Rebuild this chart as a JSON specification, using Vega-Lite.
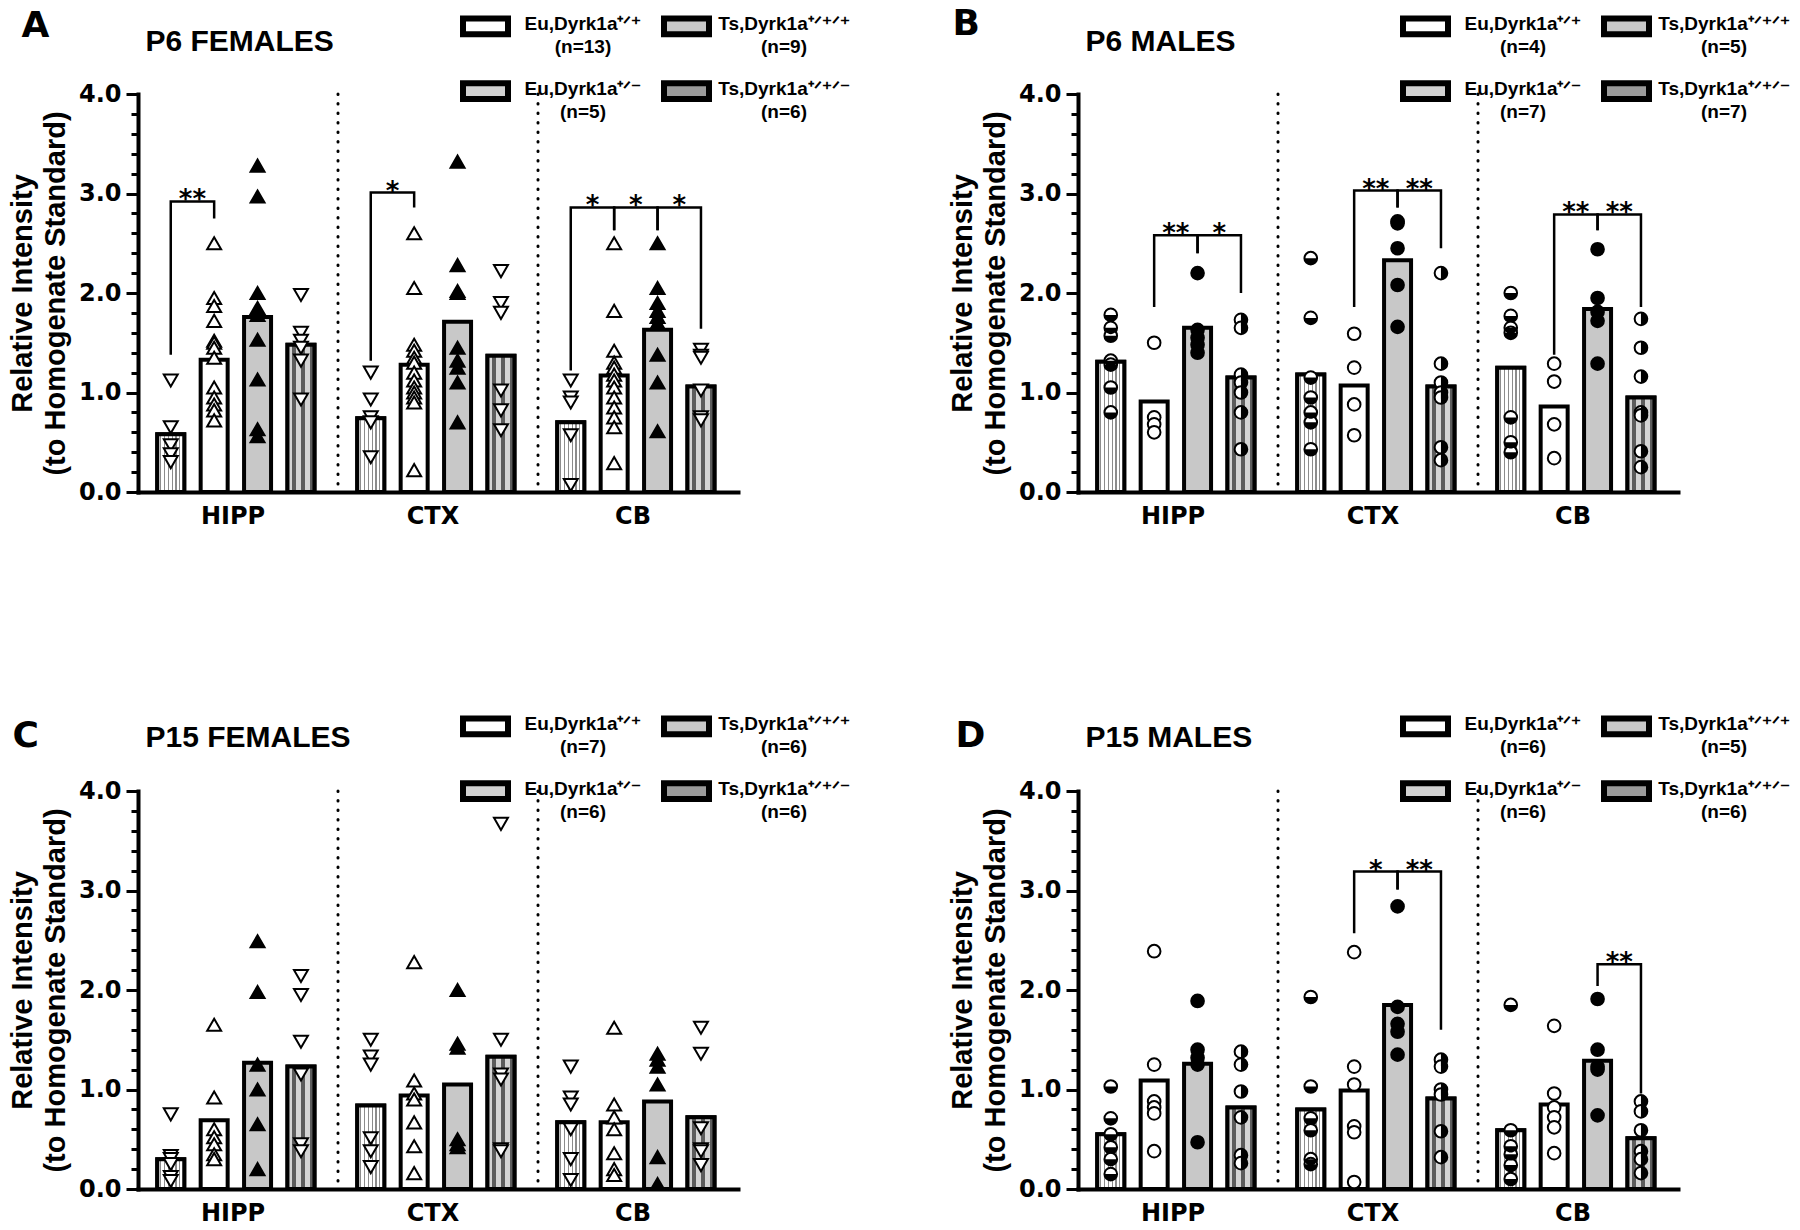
{
"$schema": "https://vega.github.io/schema/vega-lite/v6.json",
"background": "white",
"padding": {"left": 8, "top": 4, "right": 5, "bottom": 5},
"config": {"view": {"stroke": null}, "font": "DejaVu Sans", "style": {"guide-label": {"lineHeight": 23}}},
"datasets": {
"bars": [
{"p":"A","r":"HIPP","g":"Em","v":0.58},{"p":"A","r":"HIPP","g":"E2","v":1.33},{"p":"A","r":"HIPP","g":"T3","v":1.76},{"p":"A","r":"HIPP","g":"Tm","v":1.48},
{"p":"A","r":"CTX","g":"Em","v":0.74},{"p":"A","r":"CTX","g":"E2","v":1.28},{"p":"A","r":"CTX","g":"T3","v":1.71},{"p":"A","r":"CTX","g":"Tm","v":1.37},
{"p":"A","r":"CB","g":"Em","v":0.70},{"p":"A","r":"CB","g":"E2","v":1.17},{"p":"A","r":"CB","g":"T3","v":1.63},{"p":"A","r":"CB","g":"Tm","v":1.06},
{"p":"B","r":"HIPP","g":"Em","v":1.31},{"p":"B","r":"HIPP","g":"E2","v":0.91},{"p":"B","r":"HIPP","g":"T3","v":1.65},{"p":"B","r":"HIPP","g":"Tm","v":1.15},
{"p":"B","r":"CTX","g":"Em","v":1.18},{"p":"B","r":"CTX","g":"E2","v":1.07},{"p":"B","r":"CTX","g":"T3","v":2.33},{"p":"B","r":"CTX","g":"Tm","v":1.06},
{"p":"B","r":"CB","g":"Em","v":1.25},{"p":"B","r":"CB","g":"E2","v":0.86},{"p":"B","r":"CB","g":"T3","v":1.84},{"p":"B","r":"CB","g":"Tm","v":0.95},
{"p":"C","r":"HIPP","g":"Em","v":0.30},{"p":"C","r":"HIPP","g":"E2","v":0.69},{"p":"C","r":"HIPP","g":"T3","v":1.27},{"p":"C","r":"HIPP","g":"Tm","v":1.23},
{"p":"C","r":"CTX","g":"Em","v":0.84},{"p":"C","r":"CTX","g":"E2","v":0.94},{"p":"C","r":"CTX","g":"T3","v":1.05},{"p":"C","r":"CTX","g":"Tm","v":1.33},
{"p":"C","r":"CB","g":"Em","v":0.67},{"p":"C","r":"CB","g":"E2","v":0.67},{"p":"C","r":"CB","g":"T3","v":0.88},{"p":"C","r":"CB","g":"Tm","v":0.72},
{"p":"D","r":"HIPP","g":"Em","v":0.55},{"p":"D","r":"HIPP","g":"E2","v":1.09},{"p":"D","r":"HIPP","g":"T3","v":1.26},{"p":"D","r":"HIPP","g":"Tm","v":0.82},
{"p":"D","r":"CTX","g":"Em","v":0.80},{"p":"D","r":"CTX","g":"E2","v":0.99},{"p":"D","r":"CTX","g":"T3","v":1.85},{"p":"D","r":"CTX","g":"Tm","v":0.91},
{"p":"D","r":"CB","g":"Em","v":0.59},{"p":"D","r":"CB","g":"E2","v":0.85},{"p":"D","r":"CB","g":"T3","v":1.29},{"p":"D","r":"CB","g":"Tm","v":0.51}
],
"pts": [
{"p":"A","r":"HIPP","g":"Em","v":1.12},{"p":"A","r":"HIPP","g":"Em","v":0.65},{"p":"A","r":"HIPP","g":"Em","v":0.47},{"p":"A","r":"HIPP","g":"Em","v":0.38},{"p":"A","r":"HIPP","g":"Em","v":0.30},
{"p":"A","r":"HIPP","g":"E2","v":2.5},{"p":"A","r":"HIPP","g":"E2","v":1.95},{"p":"A","r":"HIPP","g":"E2","v":1.87},{"p":"A","r":"HIPP","g":"E2","v":1.72},{"p":"A","r":"HIPP","g":"E2","v":1.52},{"p":"A","r":"HIPP","g":"E2","v":1.5},{"p":"A","r":"HIPP","g":"E2","v":1.45},{"p":"A","r":"HIPP","g":"E2","v":1.35},{"p":"A","r":"HIPP","g":"E2","v":1.05},{"p":"A","r":"HIPP","g":"E2","v":0.95},{"p":"A","r":"HIPP","g":"E2","v":0.88},{"p":"A","r":"HIPP","g":"E2","v":0.82},{"p":"A","r":"HIPP","g":"E2","v":0.72},
{"p":"A","r":"HIPP","g":"T3","v":3.28},{"p":"A","r":"HIPP","g":"T3","v":2.97},{"p":"A","r":"HIPP","g":"T3","v":2.0},{"p":"A","r":"HIPP","g":"T3","v":1.85},{"p":"A","r":"HIPP","g":"T3","v":1.78},{"p":"A","r":"HIPP","g":"T3","v":1.53},{"p":"A","r":"HIPP","g":"T3","v":1.13},{"p":"A","r":"HIPP","g":"T3","v":0.63},{"p":"A","r":"HIPP","g":"T3","v":0.56},
{"p":"A","r":"HIPP","g":"Tm","v":1.98},{"p":"A","r":"HIPP","g":"Tm","v":1.6},{"p":"A","r":"HIPP","g":"Tm","v":1.52},{"p":"A","r":"HIPP","g":"Tm","v":1.45},{"p":"A","r":"HIPP","g":"Tm","v":1.32},{"p":"A","r":"HIPP","g":"Tm","v":0.93},
{"p":"A","r":"CTX","g":"Em","v":1.2},{"p":"A","r":"CTX","g":"Em","v":0.93},{"p":"A","r":"CTX","g":"Em","v":0.75},{"p":"A","r":"CTX","g":"Em","v":0.7},{"p":"A","r":"CTX","g":"Em","v":0.35},
{"p":"A","r":"CTX","g":"E2","v":2.6},{"p":"A","r":"CTX","g":"E2","v":2.05},{"p":"A","r":"CTX","g":"E2","v":1.48},{"p":"A","r":"CTX","g":"E2","v":1.42},{"p":"A","r":"CTX","g":"E2","v":1.35},{"p":"A","r":"CTX","g":"E2","v":1.3},{"p":"A","r":"CTX","g":"E2","v":1.2},{"p":"A","r":"CTX","g":"E2","v":1.12},{"p":"A","r":"CTX","g":"E2","v":1.05},{"p":"A","r":"CTX","g":"E2","v":1.0},{"p":"A","r":"CTX","g":"E2","v":0.95},{"p":"A","r":"CTX","g":"E2","v":0.9},{"p":"A","r":"CTX","g":"E2","v":0.22},
{"p":"A","r":"CTX","g":"T3","v":3.32},{"p":"A","r":"CTX","g":"T3","v":2.28},{"p":"A","r":"CTX","g":"T3","v":2.02},{"p":"A","r":"CTX","g":"T3","v":2.0},{"p":"A","r":"CTX","g":"T3","v":1.45},{"p":"A","r":"CTX","g":"T3","v":1.32},{"p":"A","r":"CTX","g":"T3","v":1.25},{"p":"A","r":"CTX","g":"T3","v":1.1},{"p":"A","r":"CTX","g":"T3","v":0.7},
{"p":"A","r":"CTX","g":"Tm","v":2.22},{"p":"A","r":"CTX","g":"Tm","v":1.9},{"p":"A","r":"CTX","g":"Tm","v":1.8},{"p":"A","r":"CTX","g":"Tm","v":1.02},{"p":"A","r":"CTX","g":"Tm","v":0.82},{"p":"A","r":"CTX","g":"Tm","v":0.62},
{"p":"A","r":"CB","g":"Em","v":1.12},{"p":"A","r":"CB","g":"Em","v":0.95},{"p":"A","r":"CB","g":"Em","v":0.9},{"p":"A","r":"CB","g":"Em","v":0.57},{"p":"A","r":"CB","g":"Em","v":0.07},
{"p":"A","r":"CB","g":"E2","v":2.5},{"p":"A","r":"CB","g":"E2","v":1.82},{"p":"A","r":"CB","g":"E2","v":1.42},{"p":"A","r":"CB","g":"E2","v":1.3},{"p":"A","r":"CB","g":"E2","v":1.25},{"p":"A","r":"CB","g":"E2","v":1.18},{"p":"A","r":"CB","g":"E2","v":1.12},{"p":"A","r":"CB","g":"E2","v":1.05},{"p":"A","r":"CB","g":"E2","v":0.95},{"p":"A","r":"CB","g":"E2","v":0.85},{"p":"A","r":"CB","g":"E2","v":0.75},{"p":"A","r":"CB","g":"E2","v":0.65},{"p":"A","r":"CB","g":"E2","v":0.29},
{"p":"A","r":"CB","g":"T3","v":2.5},{"p":"A","r":"CB","g":"T3","v":2.05},{"p":"A","r":"CB","g":"T3","v":1.9},{"p":"A","r":"CB","g":"T3","v":1.82},{"p":"A","r":"CB","g":"T3","v":1.76},{"p":"A","r":"CB","g":"T3","v":1.7},{"p":"A","r":"CB","g":"T3","v":1.38},{"p":"A","r":"CB","g":"T3","v":1.1},{"p":"A","r":"CB","g":"T3","v":0.61},
{"p":"A","r":"CB","g":"Tm","v":1.43},{"p":"A","r":"CB","g":"Tm","v":1.37},{"p":"A","r":"CB","g":"Tm","v":1.35},{"p":"A","r":"CB","g":"Tm","v":1.02},{"p":"A","r":"CB","g":"Tm","v":0.75},{"p":"A","r":"CB","g":"Tm","v":0.72},
{"p":"B","r":"HIPP","g":"Em","v":1.78},{"p":"B","r":"HIPP","g":"Em","v":1.65},{"p":"B","r":"HIPP","g":"Em","v":1.57},{"p":"B","r":"HIPP","g":"Em","v":1.32},{"p":"B","r":"HIPP","g":"Em","v":1.28},{"p":"B","r":"HIPP","g":"Em","v":1.05},{"p":"B","r":"HIPP","g":"Em","v":0.8},
{"p":"B","r":"HIPP","g":"E2","v":1.5},{"p":"B","r":"HIPP","g":"E2","v":0.75},{"p":"B","r":"HIPP","g":"E2","v":0.68},{"p":"B","r":"HIPP","g":"E2","v":0.6},
{"p":"B","r":"HIPP","g":"T3","v":2.2},{"p":"B","r":"HIPP","g":"T3","v":1.63},{"p":"B","r":"HIPP","g":"T3","v":1.55},{"p":"B","r":"HIPP","g":"T3","v":1.48},{"p":"B","r":"HIPP","g":"T3","v":1.4},
{"p":"B","r":"HIPP","g":"Tm","v":1.73},{"p":"B","r":"HIPP","g":"Tm","v":1.65},{"p":"B","r":"HIPP","g":"Tm","v":1.18},{"p":"B","r":"HIPP","g":"Tm","v":1.1},{"p":"B","r":"HIPP","g":"Tm","v":1.0},{"p":"B","r":"HIPP","g":"Tm","v":0.8},{"p":"B","r":"HIPP","g":"Tm","v":0.43},
{"p":"B","r":"CTX","g":"Em","v":2.35},{"p":"B","r":"CTX","g":"Em","v":1.75},{"p":"B","r":"CTX","g":"Em","v":1.15},{"p":"B","r":"CTX","g":"Em","v":0.95},{"p":"B","r":"CTX","g":"Em","v":0.8},{"p":"B","r":"CTX","g":"Em","v":0.7},{"p":"B","r":"CTX","g":"Em","v":0.43},
{"p":"B","r":"CTX","g":"E2","v":1.59},{"p":"B","r":"CTX","g":"E2","v":1.25},{"p":"B","r":"CTX","g":"E2","v":0.88},{"p":"B","r":"CTX","g":"E2","v":0.57},
{"p":"B","r":"CTX","g":"T3","v":2.72},{"p":"B","r":"CTX","g":"T3","v":2.7},{"p":"B","r":"CTX","g":"T3","v":2.45},{"p":"B","r":"CTX","g":"T3","v":2.08},{"p":"B","r":"CTX","g":"T3","v":1.66},
{"p":"B","r":"CTX","g":"Tm","v":2.2},{"p":"B","r":"CTX","g":"Tm","v":1.29},{"p":"B","r":"CTX","g":"Tm","v":1.1},{"p":"B","r":"CTX","g":"Tm","v":1.0},{"p":"B","r":"CTX","g":"Tm","v":0.95},{"p":"B","r":"CTX","g":"Tm","v":0.45},{"p":"B","r":"CTX","g":"Tm","v":0.32},
{"p":"B","r":"CB","g":"Em","v":2.0},{"p":"B","r":"CB","g":"Em","v":1.77},{"p":"B","r":"CB","g":"Em","v":1.65},{"p":"B","r":"CB","g":"Em","v":1.6},{"p":"B","r":"CB","g":"Em","v":0.75},{"p":"B","r":"CB","g":"Em","v":0.5},{"p":"B","r":"CB","g":"Em","v":0.4},
{"p":"B","r":"CB","g":"E2","v":1.29},{"p":"B","r":"CB","g":"E2","v":1.11},{"p":"B","r":"CB","g":"E2","v":0.68},{"p":"B","r":"CB","g":"E2","v":0.34},
{"p":"B","r":"CB","g":"T3","v":2.44},{"p":"B","r":"CB","g":"T3","v":1.95},{"p":"B","r":"CB","g":"T3","v":1.81},{"p":"B","r":"CB","g":"T3","v":1.72},{"p":"B","r":"CB","g":"T3","v":1.29},
{"p":"B","r":"CB","g":"Tm","v":1.74},{"p":"B","r":"CB","g":"Tm","v":1.45},{"p":"B","r":"CB","g":"Tm","v":1.16},{"p":"B","r":"CB","g":"Tm","v":0.8},{"p":"B","r":"CB","g":"Tm","v":0.77},{"p":"B","r":"CB","g":"Tm","v":0.41},{"p":"B","r":"CB","g":"Tm","v":0.25},
{"p":"C","r":"HIPP","g":"Em","v":0.75},{"p":"C","r":"HIPP","g":"Em","v":0.33},{"p":"C","r":"HIPP","g":"Em","v":0.3},{"p":"C","r":"HIPP","g":"Em","v":0.25},{"p":"C","r":"HIPP","g":"Em","v":0.12},{"p":"C","r":"HIPP","g":"Em","v":0.08},
{"p":"C","r":"HIPP","g":"E2","v":1.65},{"p":"C","r":"HIPP","g":"E2","v":0.92},{"p":"C","r":"HIPP","g":"E2","v":0.6},{"p":"C","r":"HIPP","g":"E2","v":0.52},{"p":"C","r":"HIPP","g":"E2","v":0.45},{"p":"C","r":"HIPP","g":"E2","v":0.35},{"p":"C","r":"HIPP","g":"E2","v":0.3},
{"p":"C","r":"HIPP","g":"T3","v":2.49},{"p":"C","r":"HIPP","g":"T3","v":1.98},{"p":"C","r":"HIPP","g":"T3","v":1.25},{"p":"C","r":"HIPP","g":"T3","v":1.0},{"p":"C","r":"HIPP","g":"T3","v":0.65},{"p":"C","r":"HIPP","g":"T3","v":0.2},
{"p":"C","r":"HIPP","g":"Tm","v":2.14},{"p":"C","r":"HIPP","g":"Tm","v":1.95},{"p":"C","r":"HIPP","g":"Tm","v":1.48},{"p":"C","r":"HIPP","g":"Tm","v":1.15},{"p":"C","r":"HIPP","g":"Tm","v":0.45},{"p":"C","r":"HIPP","g":"Tm","v":0.38},
{"p":"C","r":"CTX","g":"Em","v":1.5},{"p":"C","r":"CTX","g":"Em","v":1.33},{"p":"C","r":"CTX","g":"Em","v":1.25},{"p":"C","r":"CTX","g":"Em","v":0.51},{"p":"C","r":"CTX","g":"Em","v":0.38},{"p":"C","r":"CTX","g":"Em","v":0.22},
{"p":"C","r":"CTX","g":"E2","v":2.28},{"p":"C","r":"CTX","g":"E2","v":1.09},{"p":"C","r":"CTX","g":"E2","v":0.96},{"p":"C","r":"CTX","g":"E2","v":0.9},{"p":"C","r":"CTX","g":"E2","v":0.67},{"p":"C","r":"CTX","g":"E2","v":0.43},{"p":"C","r":"CTX","g":"E2","v":0.16},
{"p":"C","r":"CTX","g":"T3","v":2.0},{"p":"C","r":"CTX","g":"T3","v":1.46},{"p":"C","r":"CTX","g":"T3","v":1.42},{"p":"C","r":"CTX","g":"T3","v":0.5},{"p":"C","r":"CTX","g":"T3","v":0.45},{"p":"C","r":"CTX","g":"T3","v":0.42},
{"p":"C","r":"CTX","g":"Tm","v":3.67},{"p":"C","r":"CTX","g":"Tm","v":1.5},{"p":"C","r":"CTX","g":"Tm","v":1.15},{"p":"C","r":"CTX","g":"Tm","v":1.1},{"p":"C","r":"CTX","g":"Tm","v":0.4},{"p":"C","r":"CTX","g":"Tm","v":0.38},
{"p":"C","r":"CB","g":"Em","v":1.23},{"p":"C","r":"CB","g":"Em","v":0.92},{"p":"C","r":"CB","g":"Em","v":0.85},{"p":"C","r":"CB","g":"Em","v":0.6},{"p":"C","r":"CB","g":"Em","v":0.3},{"p":"C","r":"CB","g":"Em","v":0.09},
{"p":"C","r":"CB","g":"E2","v":1.62},{"p":"C","r":"CB","g":"E2","v":0.85},{"p":"C","r":"CB","g":"E2","v":0.72},{"p":"C","r":"CB","g":"E2","v":0.6},{"p":"C","r":"CB","g":"E2","v":0.36},{"p":"C","r":"CB","g":"E2","v":0.2},{"p":"C","r":"CB","g":"E2","v":0.14},
{"p":"C","r":"CB","g":"T3","v":1.36},{"p":"C","r":"CB","g":"T3","v":1.3},{"p":"C","r":"CB","g":"T3","v":1.23},{"p":"C","r":"CB","g":"T3","v":1.05},{"p":"C","r":"CB","g":"T3","v":0.32},{"p":"C","r":"CB","g":"T3","v":0.05},
{"p":"C","r":"CB","g":"Tm","v":1.62},{"p":"C","r":"CB","g":"Tm","v":1.36},{"p":"C","r":"CB","g":"Tm","v":0.61},{"p":"C","r":"CB","g":"Tm","v":0.4},{"p":"C","r":"CB","g":"Tm","v":0.38},{"p":"C","r":"CB","g":"Tm","v":0.24},
{"p":"D","r":"HIPP","g":"Em","v":1.03},{"p":"D","r":"HIPP","g":"Em","v":0.71},{"p":"D","r":"HIPP","g":"Em","v":0.55},{"p":"D","r":"HIPP","g":"Em","v":0.42},{"p":"D","r":"HIPP","g":"Em","v":0.3},{"p":"D","r":"HIPP","g":"Em","v":0.15},
{"p":"D","r":"HIPP","g":"E2","v":2.39},{"p":"D","r":"HIPP","g":"E2","v":1.25},{"p":"D","r":"HIPP","g":"E2","v":0.88},{"p":"D","r":"HIPP","g":"E2","v":0.82},{"p":"D","r":"HIPP","g":"E2","v":0.76},{"p":"D","r":"HIPP","g":"E2","v":0.38},
{"p":"D","r":"HIPP","g":"T3","v":1.89},{"p":"D","r":"HIPP","g":"T3","v":1.4},{"p":"D","r":"HIPP","g":"T3","v":1.32},{"p":"D","r":"HIPP","g":"T3","v":1.25},{"p":"D","r":"HIPP","g":"T3","v":0.47},
{"p":"D","r":"HIPP","g":"Tm","v":1.38},{"p":"D","r":"HIPP","g":"Tm","v":1.25},{"p":"D","r":"HIPP","g":"Tm","v":0.98},{"p":"D","r":"HIPP","g":"Tm","v":0.72},{"p":"D","r":"HIPP","g":"Tm","v":0.34},{"p":"D","r":"HIPP","g":"Tm","v":0.26},
{"p":"D","r":"CTX","g":"Em","v":1.93},{"p":"D","r":"CTX","g":"Em","v":1.03},{"p":"D","r":"CTX","g":"Em","v":0.71},{"p":"D","r":"CTX","g":"Em","v":0.59},{"p":"D","r":"CTX","g":"Em","v":0.3},{"p":"D","r":"CTX","g":"Em","v":0.25},
{"p":"D","r":"CTX","g":"E2","v":2.38},{"p":"D","r":"CTX","g":"E2","v":1.23},{"p":"D","r":"CTX","g":"E2","v":1.05},{"p":"D","r":"CTX","g":"E2","v":0.63},{"p":"D","r":"CTX","g":"E2","v":0.57},{"p":"D","r":"CTX","g":"E2","v":0.07},
{"p":"D","r":"CTX","g":"T3","v":2.84},{"p":"D","r":"CTX","g":"T3","v":1.83},{"p":"D","r":"CTX","g":"T3","v":1.66},{"p":"D","r":"CTX","g":"T3","v":1.58},{"p":"D","r":"CTX","g":"T3","v":1.35},
{"p":"D","r":"CTX","g":"Tm","v":1.3},{"p":"D","r":"CTX","g":"Tm","v":1.23},{"p":"D","r":"CTX","g":"Tm","v":1.0},{"p":"D","r":"CTX","g":"Tm","v":0.95},{"p":"D","r":"CTX","g":"Tm","v":0.58},{"p":"D","r":"CTX","g":"Tm","v":0.32},
{"p":"D","r":"CB","g":"Em","v":1.85},{"p":"D","r":"CB","g":"Em","v":0.59},{"p":"D","r":"CB","g":"Em","v":0.43},{"p":"D","r":"CB","g":"Em","v":0.35},{"p":"D","r":"CB","g":"Em","v":0.24},{"p":"D","r":"CB","g":"Em","v":0.1},
{"p":"D","r":"CB","g":"E2","v":1.64},{"p":"D","r":"CB","g":"E2","v":0.96},{"p":"D","r":"CB","g":"E2","v":0.82},{"p":"D","r":"CB","g":"E2","v":0.72},{"p":"D","r":"CB","g":"E2","v":0.62},{"p":"D","r":"CB","g":"E2","v":0.36},
{"p":"D","r":"CB","g":"T3","v":1.91},{"p":"D","r":"CB","g":"T3","v":1.4},{"p":"D","r":"CB","g":"T3","v":1.23},{"p":"D","r":"CB","g":"T3","v":1.2},{"p":"D","r":"CB","g":"T3","v":0.74},
{"p":"D","r":"CB","g":"Tm","v":0.88},{"p":"D","r":"CB","g":"Tm","v":0.78},{"p":"D","r":"CB","g":"Tm","v":0.59},{"p":"D","r":"CB","g":"Tm","v":0.38},{"p":"D","r":"CB","g":"Tm","v":0.3},{"p":"D","r":"CB","g":"Tm","v":0.16}
],
"br": [
{"p":"A","r":"HIPP","id":"A1","g":"Em","v":1.38,"o":0},{"p":"A","r":"HIPP","id":"A1","g":"Em","v":2.92,"o":1},{"p":"A","r":"HIPP","id":"A1","g":"E2","v":2.92,"o":2},{"p":"A","r":"HIPP","id":"A1","g":"E2","v":2.75,"o":3},
{"p":"A","r":"CTX","id":"A2","g":"Em","v":1.32,"o":0},{"p":"A","r":"CTX","id":"A2","g":"Em","v":3.01,"o":1},{"p":"A","r":"CTX","id":"A2","g":"E2","v":3.01,"o":2},{"p":"A","r":"CTX","id":"A2","g":"E2","v":2.86,"o":3},
{"p":"A","r":"CB","id":"A3","g":"Em","v":1.22,"o":0},{"p":"A","r":"CB","id":"A3","g":"Em","v":2.86,"o":1},{"p":"A","r":"CB","id":"A3","g":"E2","v":2.86,"o":2},{"p":"A","r":"CB","id":"A3","g":"E2","v":2.63,"o":3},
{"p":"A","r":"CB","id":"A4","g":"E2","v":2.63,"o":0},{"p":"A","r":"CB","id":"A4","g":"E2","v":2.86,"o":1},{"p":"A","r":"CB","id":"A4","g":"T3","v":2.86,"o":2},{"p":"A","r":"CB","id":"A4","g":"T3","v":2.63,"o":3},
{"p":"A","r":"CB","id":"A5","g":"T3","v":2.63,"o":0},{"p":"A","r":"CB","id":"A5","g":"T3","v":2.86,"o":1},{"p":"A","r":"CB","id":"A5","g":"Tm","v":2.86,"o":2},{"p":"A","r":"CB","id":"A5","g":"Tm","v":1.64,"o":3},
{"p":"B","r":"HIPP","id":"B1","g":"E2","v":1.86,"o":0},{"p":"B","r":"HIPP","id":"B1","g":"E2","v":2.58,"o":1},{"p":"B","r":"HIPP","id":"B1","g":"T3","v":2.58,"o":2},{"p":"B","r":"HIPP","id":"B1","g":"T3","v":2.4,"o":3},
{"p":"B","r":"HIPP","id":"B2","g":"T3","v":2.4,"o":0},{"p":"B","r":"HIPP","id":"B2","g":"T3","v":2.58,"o":1},{"p":"B","r":"HIPP","id":"B2","g":"Tm","v":2.58,"o":2},{"p":"B","r":"HIPP","id":"B2","g":"Tm","v":2.0,"o":3},
{"p":"B","r":"CTX","id":"B3","g":"E2","v":1.86,"o":0},{"p":"B","r":"CTX","id":"B3","g":"E2","v":3.03,"o":1},{"p":"B","r":"CTX","id":"B3","g":"T3","v":3.03,"o":2},{"p":"B","r":"CTX","id":"B3","g":"T3","v":2.86,"o":3},
{"p":"B","r":"CTX","id":"B4","g":"T3","v":2.86,"o":0},{"p":"B","r":"CTX","id":"B4","g":"T3","v":3.03,"o":1},{"p":"B","r":"CTX","id":"B4","g":"Tm","v":3.03,"o":2},{"p":"B","r":"CTX","id":"B4","g":"Tm","v":2.45,"o":3},
{"p":"B","r":"CB","id":"B5","g":"E2","v":1.38,"o":0},{"p":"B","r":"CB","id":"B5","g":"E2","v":2.79,"o":1},{"p":"B","r":"CB","id":"B5","g":"T3","v":2.79,"o":2},{"p":"B","r":"CB","id":"B5","g":"T3","v":2.63,"o":3},
{"p":"B","r":"CB","id":"B6","g":"T3","v":2.63,"o":0},{"p":"B","r":"CB","id":"B6","g":"T3","v":2.79,"o":1},{"p":"B","r":"CB","id":"B6","g":"Tm","v":2.79,"o":2},{"p":"B","r":"CB","id":"B6","g":"Tm","v":1.86,"o":3},
{"p":"D","r":"CTX","id":"D1","g":"E2","v":2.57,"o":0},{"p":"D","r":"CTX","id":"D1","g":"E2","v":3.19,"o":1},{"p":"D","r":"CTX","id":"D1","g":"T3","v":3.19,"o":2},{"p":"D","r":"CTX","id":"D1","g":"T3","v":3.01,"o":3},
{"p":"D","r":"CTX","id":"D2","g":"T3","v":3.01,"o":0},{"p":"D","r":"CTX","id":"D2","g":"T3","v":3.19,"o":1},{"p":"D","r":"CTX","id":"D2","g":"Tm","v":3.19,"o":2},{"p":"D","r":"CTX","id":"D2","g":"Tm","v":1.6,"o":3},
{"p":"D","r":"CB","id":"D3","g":"T3","v":2.04,"o":0},{"p":"D","r":"CB","id":"D3","g":"T3","v":2.26,"o":1},{"p":"D","r":"CB","id":"D3","g":"Tm","v":2.26,"o":2},{"p":"D","r":"CB","id":"D3","g":"Tm","v":0.96,"o":3}
],
"st": [
{"p":"A","r":"HIPP","g":"Em","v":2.92,"t":"**"},{"p":"A","r":"CTX","g":"Em","v":3.01,"t":"*"},{"p":"A","r":"CB","g":"Em","v":2.86,"t":"*"},{"p":"A","r":"CB","g":"E2","v":2.86,"t":"*"},{"p":"A","r":"CB","g":"T3","v":2.86,"t":"*"},
{"p":"B","r":"HIPP","g":"E2","v":2.58,"t":"**"},{"p":"B","r":"HIPP","g":"T3","v":2.58,"t":"*"},{"p":"B","r":"CTX","g":"E2","v":3.03,"t":"**"},{"p":"B","r":"CTX","g":"T3","v":3.03,"t":"**"},{"p":"B","r":"CB","g":"E2","v":2.79,"t":"**"},{"p":"B","r":"CB","g":"T3","v":2.79,"t":"**"},
{"p":"D","r":"CTX","g":"E2","v":3.19,"t":"*"},{"p":"D","r":"CTX","g":"T3","v":3.19,"t":"**"},{"p":"D","r":"CB","g":"T3","v":2.26,"t":"**"}
]
},
"columns": 2,
"spacing": {"row": 299, "column": 340},
"bounds": "flush",
"resolve": {"scale": {"fill": "independent"}, "legend": {"fill": "independent"}},
"concat": [
{
"width": 600, "height": 398,
"resolve": {"axis": {"y": "independent"}},
"layer": [
{"data": {"name": "bars"}, "transform": [{"filter": "datum.p=='A'"}],
 "mark": {"type": "bar", "stroke": "black", "strokeWidth": 4},
 "encoding": {
  "x": {"field": "r", "type": "nominal", "scale": {"domain": ["HIPP","CTX","CB"], "paddingInner": 0, "paddingOuter": 0},
        "axis": {"orient": "bottom", "ticks": false, "domainWidth": 4, "domainColor": "black", "domainCap": "square", "labelFont": "DejaVu Sans", "labelFontWeight": "bold", "labelFontSize": 24, "labelColor": "black", "labelPadding": 12, "labelAngle": 0, "labelOffset": -5,
                 "title": "P6 FEMALES", "titleX": 7, "titleY": -442, "titleAlign": "left", "titleBaseline": "alphabetic", "titleAngle": 0, "titleFont": "Liberation Sans", "titleFontSize": 30, "titleFontWeight": "bold", "titleColor": "black"}},
  "xOffset": {"field": "g", "type": "nominal", "scale": {"domain": ["Em","E2","T3","Tm"], "paddingInner": 0.378, "paddingOuter": 0.493, "align": 0.45}},
  "y": {"field": "v", "type": "quantitative", "scale": {"domain": [0, 4], "nice": false},
        "axis": {"orient": "left", "values": [0,1,2,3,4], "format": ".1f", "labelFont": "DejaVu Sans", "labelFontWeight": "bold", "labelFontSize": 24, "labelColor": "black", "labelPadding": 5, "labelFlush": false, "labelOverlap": false, "tickSize": 12, "tickWidth": 3, "tickColor": "black", "domainWidth": 4, "domainColor": "black", "domainCap": "square", "grid": false,
                 "title": ["Relative Intensity", "(to Homogenate Standard)"], "titleFont": "Liberation Sans", "titleFontSize": 29, "titleFontWeight": "bold", "titleColor": "black", "titlePadding": 8, "titleLineHeight": 33}},
  "fill": {"field": "g", "type": "nominal", "scale": {"domain": ["E2","Em","T3","Tm"], "range": ["#ffffff","#d2d2d2","#c8c8c8","#9a9a9a"]},
           "legend": {"orient": "none", "legendX": 322, "legendY": -90, "columns": 2, "title": null, "symbolType": "M-1,-0.505H1V0.195H-1Z", "symbolSize": 2025, "symbolStrokeColor": "black", "symbolStrokeWidth": 6, "symbolOpacity": 1, "labelFont": "Liberation Sans", "labelFontSize": 19, "labelFontWeight": "bold", "labelColor": "black", "labelOffset": 72, "labelAlign": "center", "labelLimit": 300, "columnPadding": 10, "rowPadding": 12, "labelBaseline": "alphabetic", "padding": 0,
                      "labelExpr": "datum.label=='E2' ? ['Eu,Dyrk1a⁺ᐟ⁺','(n=13)'] : datum.label=='T3' ? ['Ts,Dyrk1a⁺ᐟ⁺ᐟ⁺','(n=9)'] : datum.label=='Em' ? ['Eu,Dyrk1a⁺ᐟ⁻','(n=5)'] : ['Ts,Dyrk1a⁺ᐟ⁺ᐟ⁻','(n=6)']"}}
 }},
{"data": {"name": "bars"}, "transform": [{"filter": "datum.p=='A' && datum.g=='Em'"}],
 "mark": {"type": "bar", "stroke": "black", "strokeWidth": 4, "fill": {"gradient": "linear", "x1": 0, "y1": 0, "x2": 1, "y2": 0, "stops": [{"offset":0,"color":"#ffffff"},{"offset":0.1,"color":"#ffffff"},{"offset":0.1,"color":"#8c8c8c"},{"offset":0.143,"color":"#8c8c8c"},{"offset":0.143,"color":"#ffffff"},{"offset":0.243,"color":"#ffffff"},{"offset":0.243,"color":"#8c8c8c"},{"offset":0.286,"color":"#8c8c8c"},{"offset":0.286,"color":"#ffffff"},{"offset":0.386,"color":"#ffffff"},{"offset":0.386,"color":"#8c8c8c"},{"offset":0.429,"color":"#8c8c8c"},{"offset":0.429,"color":"#ffffff"},{"offset":0.529,"color":"#ffffff"},{"offset":0.529,"color":"#8c8c8c"},{"offset":0.571,"color":"#8c8c8c"},{"offset":0.571,"color":"#ffffff"},{"offset":0.671,"color":"#ffffff"},{"offset":0.671,"color":"#8c8c8c"},{"offset":0.714,"color":"#8c8c8c"},{"offset":0.714,"color":"#ffffff"},{"offset":0.814,"color":"#ffffff"},{"offset":0.814,"color":"#8c8c8c"},{"offset":0.857,"color":"#8c8c8c"},{"offset":0.857,"color":"#ffffff"},{"offset":1,"color":"#ffffff"}]}},
 "encoding": {
  "x": {"field": "r", "type": "nominal", "scale": {"domain": ["HIPP","CTX","CB"], "paddingInner": 0, "paddingOuter": 0}},
  "xOffset": {"field": "g", "type": "nominal", "scale": {"domain": ["Em","E2","T3","Tm"], "paddingInner": 0.378, "paddingOuter": 0.493, "align": 0.45}},
  "y": {"field": "v", "type": "quantitative", "scale": {"domain": [0, 4], "nice": false}, "axis": null}
 }},
{"data": {"name": "bars"}, "transform": [{"filter": "datum.p=='A' && datum.g=='Tm'"}],
 "mark": {"type": "bar", "stroke": "black", "strokeWidth": 4, "fill": {"gradient": "linear", "x1": 0, "y1": 0, "x2": 1, "y2": 0, "stops": [{"offset":0,"color":"#d4d4d4"},{"offset":0.1667,"color":"#d4d4d4"},{"offset":0.1667,"color":"#5c5c5c"},{"offset":0.3333,"color":"#5c5c5c"},{"offset":0.3333,"color":"#d4d4d4"},{"offset":0.5,"color":"#d4d4d4"},{"offset":0.5,"color":"#5c5c5c"},{"offset":0.6667,"color":"#5c5c5c"},{"offset":0.6667,"color":"#d4d4d4"},{"offset":0.8333,"color":"#d4d4d4"},{"offset":0.8333,"color":"#5c5c5c"},{"offset":1,"color":"#5c5c5c"}]}},
 "encoding": {
  "x": {"field": "r", "type": "nominal", "scale": {"domain": ["HIPP","CTX","CB"], "paddingInner": 0, "paddingOuter": 0}},
  "xOffset": {"field": "g", "type": "nominal", "scale": {"domain": ["Em","E2","T3","Tm"], "paddingInner": 0.378, "paddingOuter": 0.493, "align": 0.45}},
  "y": {"field": "v", "type": "quantitative", "scale": {"domain": [0, 4], "nice": false}, "axis": null}
 }},
{"data": {"values": [{"r": "CTX"}, {"r": "CB"}]},
 "mark": {"type": "rule", "stroke": "black", "strokeWidth": 3, "strokeDash": [0.5, 9], "strokeCap": "round"},
 "encoding": {"x": {"field": "r", "type": "nominal", "bandPosition": 0, "scale": {"domain": ["HIPP","CTX","CB"], "paddingInner": 0, "paddingOuter": 0}}}},
{"data": {"name": "br"}, "transform": [{"filter": "datum.p=='A'"}],
 "mark": {"type": "line", "stroke": "black", "strokeWidth": 2.5},
 "encoding": {
  "x": {"field": "r", "type": "nominal", "scale": {"domain": ["HIPP","CTX","CB"], "paddingInner": 0, "paddingOuter": 0}},
  "xOffset": {"field": "g", "type": "nominal", "scale": {"domain": ["Em","E2","T3","Tm"], "paddingInner": 0.378, "paddingOuter": 0.493, "align": 0.45}},
  "y": {"field": "v", "type": "quantitative", "scale": {"domain": [0, 4], "nice": false}, "axis": null},
  "detail": {"field": "id", "type": "nominal"},
  "order": {"field": "o", "type": "quantitative"}
 }},
{"data": {"name": "st"}, "transform": [{"filter": "datum.p=='A'"}],
 "mark": {"type": "text", "dx": 21.7, "dy": 7, "baseline": "alphabetic", "align": "center", "font": "DejaVu Sans", "fontSize": 26, "fontWeight": "bold", "color": "black"},
 "encoding": {
  "x": {"field": "r", "type": "nominal", "scale": {"domain": ["HIPP","CTX","CB"], "paddingInner": 0, "paddingOuter": 0}},
  "xOffset": {"field": "g", "type": "nominal", "scale": {"domain": ["Em","E2","T3","Tm"], "paddingInner": 0.378, "paddingOuter": 0.493, "align": 0.45}},
  "y": {"field": "v", "type": "quantitative", "scale": {"domain": [0, 4], "nice": false}, "axis": null},
  "text": {"field": "t", "type": "nominal"}
 }},
{"data": {"name": "pts"}, "transform": [{"filter": "datum.p=='A'"}],
 "mark": {"type": "point", "filled": true, "stroke": "black", "strokeWidth": 2, "size": 195, "opacity": 1},
 "encoding": {
  "x": {"field": "r", "type": "nominal", "scale": {"domain": ["HIPP","CTX","CB"], "paddingInner": 0, "paddingOuter": 0}},
  "xOffset": {"field": "g", "type": "nominal", "scale": {"domain": ["Em","E2","T3","Tm"], "paddingInner": 0.378, "paddingOuter": 0.493, "align": 0.45}},
  "y": {"field": "v", "type": "quantitative", "scale": {"domain": [0, 4], "nice": false},
        "axis": {"orient": "left", "values": [0.2,0.4,0.6,0.8,1.2,1.4,1.6,1.8,2.2,2.4,2.6,2.8,3.2,3.4,3.6,3.8], "labels": false, "tickSize": 7, "tickWidth": 3, "tickColor": "black", "domain": false, "grid": false,
                 "title": "A", "titleX": -117, "titleY": -58, "titleAngle": 0, "titleAlign": "left", "titleBaseline": "alphabetic", "titleFont": "DejaVu Sans", "titleFontSize": 36, "titleFontWeight": "bold", "titleColor": "black"}},
  "shape": {"condition": {"test": "datum.g=='Em' || datum.g=='Tm'", "value": "triangle-down"}, "value": "triangle-up"},
  "fill": {"condition": {"test": "datum.g=='T3'", "value": "black"}, "value": "white"}
 }}
]
},
{
"width": 600, "height": 398,
"resolve": {"axis": {"y": "independent"}},
"layer": [
{"data": {"name": "bars"}, "transform": [{"filter": "datum.p=='B'"}],
 "mark": {"type": "bar", "stroke": "black", "strokeWidth": 4},
 "encoding": {
  "x": {"field": "r", "type": "nominal", "scale": {"domain": ["HIPP","CTX","CB"], "paddingInner": 0, "paddingOuter": 0},
        "axis": {"orient": "bottom", "ticks": false, "domainWidth": 4, "domainColor": "black", "domainCap": "square", "labelFont": "DejaVu Sans", "labelFontWeight": "bold", "labelFontSize": 24, "labelColor": "black", "labelPadding": 12, "labelAngle": 0, "labelOffset": -5,
                 "title": "P6 MALES", "titleX": 7, "titleY": -442, "titleAlign": "left", "titleBaseline": "alphabetic", "titleAngle": 0, "titleFont": "Liberation Sans", "titleFontSize": 30, "titleFontWeight": "bold", "titleColor": "black"}},
  "xOffset": {"field": "g", "type": "nominal", "scale": {"domain": ["Em","E2","T3","Tm"], "paddingInner": 0.378, "paddingOuter": 0.493, "align": 0.45}},
  "y": {"field": "v", "type": "quantitative", "scale": {"domain": [0, 4], "nice": false},
        "axis": {"orient": "left", "values": [0,1,2,3,4], "format": ".1f", "labelFont": "DejaVu Sans", "labelFontWeight": "bold", "labelFontSize": 24, "labelColor": "black", "labelPadding": 5, "labelFlush": false, "labelOverlap": false, "tickSize": 12, "tickWidth": 3, "tickColor": "black", "domainWidth": 4, "domainColor": "black", "domainCap": "square", "grid": false,
                 "title": ["Relative Intensity", "(to Homogenate Standard)"], "titleFont": "Liberation Sans", "titleFontSize": 29, "titleFontWeight": "bold", "titleColor": "black", "titlePadding": 8, "titleLineHeight": 33}},
  "fill": {"field": "g", "type": "nominal", "scale": {"domain": ["E2","Em","T3","Tm"], "range": ["#ffffff","#d2d2d2","#c8c8c8","#9a9a9a"]},
           "legend": {"orient": "none", "legendX": 322, "legendY": -90, "columns": 2, "title": null, "symbolType": "M-1,-0.505H1V0.195H-1Z", "symbolSize": 2025, "symbolStrokeColor": "black", "symbolStrokeWidth": 6, "symbolOpacity": 1, "labelFont": "Liberation Sans", "labelFontSize": 19, "labelFontWeight": "bold", "labelColor": "black", "labelOffset": 72, "labelAlign": "center", "labelLimit": 300, "columnPadding": 10, "rowPadding": 12, "labelBaseline": "alphabetic", "padding": 0,
                      "labelExpr": "datum.label=='E2' ? ['Eu,Dyrk1a⁺ᐟ⁺','(n=4)'] : datum.label=='T3' ? ['Ts,Dyrk1a⁺ᐟ⁺ᐟ⁺','(n=5)'] : datum.label=='Em' ? ['Eu,Dyrk1a⁺ᐟ⁻','(n=7)'] : ['Ts,Dyrk1a⁺ᐟ⁺ᐟ⁻','(n=7)']"}}
 }},
{"data": {"name": "bars"}, "transform": [{"filter": "datum.p=='B' && datum.g=='Em'"}],
 "mark": {"type": "bar", "stroke": "black", "strokeWidth": 4, "fill": {"gradient": "linear", "x1": 0, "y1": 0, "x2": 1, "y2": 0, "stops": [{"offset":0,"color":"#ffffff"},{"offset":0.1,"color":"#ffffff"},{"offset":0.1,"color":"#8c8c8c"},{"offset":0.143,"color":"#8c8c8c"},{"offset":0.143,"color":"#ffffff"},{"offset":0.243,"color":"#ffffff"},{"offset":0.243,"color":"#8c8c8c"},{"offset":0.286,"color":"#8c8c8c"},{"offset":0.286,"color":"#ffffff"},{"offset":0.386,"color":"#ffffff"},{"offset":0.386,"color":"#8c8c8c"},{"offset":0.429,"color":"#8c8c8c"},{"offset":0.429,"color":"#ffffff"},{"offset":0.529,"color":"#ffffff"},{"offset":0.529,"color":"#8c8c8c"},{"offset":0.571,"color":"#8c8c8c"},{"offset":0.571,"color":"#ffffff"},{"offset":0.671,"color":"#ffffff"},{"offset":0.671,"color":"#8c8c8c"},{"offset":0.714,"color":"#8c8c8c"},{"offset":0.714,"color":"#ffffff"},{"offset":0.814,"color":"#ffffff"},{"offset":0.814,"color":"#8c8c8c"},{"offset":0.857,"color":"#8c8c8c"},{"offset":0.857,"color":"#ffffff"},{"offset":1,"color":"#ffffff"}]}},
 "encoding": {
  "x": {"field": "r", "type": "nominal", "scale": {"domain": ["HIPP","CTX","CB"], "paddingInner": 0, "paddingOuter": 0}},
  "xOffset": {"field": "g", "type": "nominal", "scale": {"domain": ["Em","E2","T3","Tm"], "paddingInner": 0.378, "paddingOuter": 0.493, "align": 0.45}},
  "y": {"field": "v", "type": "quantitative", "scale": {"domain": [0, 4], "nice": false}, "axis": null}
 }},
{"data": {"name": "bars"}, "transform": [{"filter": "datum.p=='B' && datum.g=='Tm'"}],
 "mark": {"type": "bar", "stroke": "black", "strokeWidth": 4, "fill": {"gradient": "linear", "x1": 0, "y1": 0, "x2": 1, "y2": 0, "stops": [{"offset":0,"color":"#d4d4d4"},{"offset":0.1667,"color":"#d4d4d4"},{"offset":0.1667,"color":"#5c5c5c"},{"offset":0.3333,"color":"#5c5c5c"},{"offset":0.3333,"color":"#d4d4d4"},{"offset":0.5,"color":"#d4d4d4"},{"offset":0.5,"color":"#5c5c5c"},{"offset":0.6667,"color":"#5c5c5c"},{"offset":0.6667,"color":"#d4d4d4"},{"offset":0.8333,"color":"#d4d4d4"},{"offset":0.8333,"color":"#5c5c5c"},{"offset":1,"color":"#5c5c5c"}]}},
 "encoding": {
  "x": {"field": "r", "type": "nominal", "scale": {"domain": ["HIPP","CTX","CB"], "paddingInner": 0, "paddingOuter": 0}},
  "xOffset": {"field": "g", "type": "nominal", "scale": {"domain": ["Em","E2","T3","Tm"], "paddingInner": 0.378, "paddingOuter": 0.493, "align": 0.45}},
  "y": {"field": "v", "type": "quantitative", "scale": {"domain": [0, 4], "nice": false}, "axis": null}
 }},
{"data": {"values": [{"r": "CTX"}, {"r": "CB"}]},
 "mark": {"type": "rule", "stroke": "black", "strokeWidth": 3, "strokeDash": [0.5, 9], "strokeCap": "round"},
 "encoding": {"x": {"field": "r", "type": "nominal", "bandPosition": 0, "scale": {"domain": ["HIPP","CTX","CB"], "paddingInner": 0, "paddingOuter": 0}}}},
{"data": {"name": "br"}, "transform": [{"filter": "datum.p=='B'"}],
 "mark": {"type": "line", "stroke": "black", "strokeWidth": 2.5},
 "encoding": {
  "x": {"field": "r", "type": "nominal", "scale": {"domain": ["HIPP","CTX","CB"], "paddingInner": 0, "paddingOuter": 0}},
  "xOffset": {"field": "g", "type": "nominal", "scale": {"domain": ["Em","E2","T3","Tm"], "paddingInner": 0.378, "paddingOuter": 0.493, "align": 0.45}},
  "y": {"field": "v", "type": "quantitative", "scale": {"domain": [0, 4], "nice": false}, "axis": null},
  "detail": {"field": "id", "type": "nominal"},
  "order": {"field": "o", "type": "quantitative"}
 }},
{"data": {"name": "st"}, "transform": [{"filter": "datum.p=='B'"}],
 "mark": {"type": "text", "dx": 21.7, "dy": 7, "baseline": "alphabetic", "align": "center", "font": "DejaVu Sans", "fontSize": 26, "fontWeight": "bold", "color": "black"},
 "encoding": {
  "x": {"field": "r", "type": "nominal", "scale": {"domain": ["HIPP","CTX","CB"], "paddingInner": 0, "paddingOuter": 0}},
  "xOffset": {"field": "g", "type": "nominal", "scale": {"domain": ["Em","E2","T3","Tm"], "paddingInner": 0.378, "paddingOuter": 0.493, "align": 0.45}},
  "y": {"field": "v", "type": "quantitative", "scale": {"domain": [0, 4], "nice": false}, "axis": null},
  "text": {"field": "t", "type": "nominal"}
 }},
{"data": {"name": "pts"}, "transform": [{"filter": "datum.p=='B'"}],
 "mark": {"type": "point", "filled": true, "stroke": "black", "strokeWidth": 2, "size": 160, "opacity": 1, "shape": "circle"},
 "encoding": {
  "x": {"field": "r", "type": "nominal", "scale": {"domain": ["HIPP","CTX","CB"], "paddingInner": 0, "paddingOuter": 0}},
  "xOffset": {"field": "g", "type": "nominal", "scale": {"domain": ["Em","E2","T3","Tm"], "paddingInner": 0.378, "paddingOuter": 0.493, "align": 0.45}},
  "y": {"field": "v", "type": "quantitative", "scale": {"domain": [0, 4], "nice": false},
        "axis": {"orient": "left", "values": [0.2,0.4,0.6,0.8,1.2,1.4,1.6,1.8,2.2,2.4,2.6,2.8,3.2,3.4,3.6,3.8], "labels": false, "tickSize": 7, "tickWidth": 3, "tickColor": "black", "domain": false, "grid": false,
                 "title": "B", "titleX": -126, "titleY": -60, "titleAngle": 0, "titleAlign": "left", "titleBaseline": "alphabetic", "titleFont": "DejaVu Sans", "titleFontSize": 36, "titleFontWeight": "bold", "titleColor": "black"}},
  "fill": {"condition": {"test": "datum.g=='T3'", "value": "black"}, "value": "white"}
 }},
{"data": {"name": "pts"}, "transform": [{"filter": "datum.p=='B' && (datum.g=='Em' || datum.g=='Tm')"}],
 "mark": {"type": "point", "filled": true, "size": 160, "opacity": 1, "strokeWidth": 0, "fill": "black"},
 "encoding": {
  "x": {"field": "r", "type": "nominal", "scale": {"domain": ["HIPP","CTX","CB"], "paddingInner": 0, "paddingOuter": 0}},
  "xOffset": {"field": "g", "type": "nominal", "scale": {"domain": ["Em","E2","T3","Tm"], "paddingInner": 0.378, "paddingOuter": 0.493, "align": 0.45}},
  "y": {"field": "v", "type": "quantitative", "scale": {"domain": [0, 4], "nice": false}, "axis": null},
  "shape": {"condition": {"test": "datum.g=='Em'", "value": "M-1,0A1,1,0,0,0,1,0Z"}, "value": "M0,-1A1,1,0,0,1,0,1Z"}
 }}
]
},
{
"width": 600, "height": 398,
"resolve": {"axis": {"y": "independent"}},
"layer": [
{"data": {"name": "bars"}, "transform": [{"filter": "datum.p=='C'"}],
 "mark": {"type": "bar", "stroke": "black", "strokeWidth": 4},
 "encoding": {
  "x": {"field": "r", "type": "nominal", "scale": {"domain": ["HIPP","CTX","CB"], "paddingInner": 0, "paddingOuter": 0},
        "axis": {"orient": "bottom", "ticks": false, "domainWidth": 4, "domainColor": "black", "domainCap": "square", "labelFont": "DejaVu Sans", "labelFontWeight": "bold", "labelFontSize": 24, "labelColor": "black", "labelPadding": 12, "labelAngle": 0, "labelOffset": -5,
                 "title": "P15 FEMALES", "titleX": 7, "titleY": -443, "titleAlign": "left", "titleBaseline": "alphabetic", "titleAngle": 0, "titleFont": "Liberation Sans", "titleFontSize": 30, "titleFontWeight": "bold", "titleColor": "black"}},
  "xOffset": {"field": "g", "type": "nominal", "scale": {"domain": ["Em","E2","T3","Tm"], "paddingInner": 0.378, "paddingOuter": 0.493, "align": 0.45}},
  "y": {"field": "v", "type": "quantitative", "scale": {"domain": [0, 4], "nice": false},
        "axis": {"orient": "left", "values": [0,1,2,3,4], "format": ".1f", "labelFont": "DejaVu Sans", "labelFontWeight": "bold", "labelFontSize": 24, "labelColor": "black", "labelPadding": 5, "labelFlush": false, "labelOverlap": false, "tickSize": 12, "tickWidth": 3, "tickColor": "black", "domainWidth": 4, "domainColor": "black", "domainCap": "square", "grid": false,
                 "title": ["Relative Intensity", "(to Homogenate Standard)"], "titleFont": "Liberation Sans", "titleFontSize": 29, "titleFontWeight": "bold", "titleColor": "black", "titlePadding": 8, "titleLineHeight": 33}},
  "fill": {"field": "g", "type": "nominal", "scale": {"domain": ["E2","Em","T3","Tm"], "range": ["#ffffff","#d2d2d2","#c8c8c8","#9a9a9a"]},
           "legend": {"orient": "none", "legendX": 322, "legendY": -87, "columns": 2, "title": null, "symbolType": "M-1,-0.505H1V0.195H-1Z", "symbolSize": 2025, "symbolStrokeColor": "black", "symbolStrokeWidth": 6, "symbolOpacity": 1, "labelFont": "Liberation Sans", "labelFontSize": 19, "labelFontWeight": "bold", "labelColor": "black", "labelOffset": 72, "labelAlign": "center", "labelLimit": 300, "columnPadding": 10, "rowPadding": 12, "labelBaseline": "alphabetic", "padding": 0,
                      "labelExpr": "datum.label=='E2' ? ['Eu,Dyrk1a⁺ᐟ⁺','(n=7)'] : datum.label=='T3' ? ['Ts,Dyrk1a⁺ᐟ⁺ᐟ⁺','(n=6)'] : datum.label=='Em' ? ['Eu,Dyrk1a⁺ᐟ⁻','(n=6)'] : ['Ts,Dyrk1a⁺ᐟ⁺ᐟ⁻','(n=6)']"}}
 }},
{"data": {"name": "bars"}, "transform": [{"filter": "datum.p=='C' && datum.g=='Em'"}],
 "mark": {"type": "bar", "stroke": "black", "strokeWidth": 4, "fill": {"gradient": "linear", "x1": 0, "y1": 0, "x2": 1, "y2": 0, "stops": [{"offset":0,"color":"#ffffff"},{"offset":0.1,"color":"#ffffff"},{"offset":0.1,"color":"#8c8c8c"},{"offset":0.143,"color":"#8c8c8c"},{"offset":0.143,"color":"#ffffff"},{"offset":0.243,"color":"#ffffff"},{"offset":0.243,"color":"#8c8c8c"},{"offset":0.286,"color":"#8c8c8c"},{"offset":0.286,"color":"#ffffff"},{"offset":0.386,"color":"#ffffff"},{"offset":0.386,"color":"#8c8c8c"},{"offset":0.429,"color":"#8c8c8c"},{"offset":0.429,"color":"#ffffff"},{"offset":0.529,"color":"#ffffff"},{"offset":0.529,"color":"#8c8c8c"},{"offset":0.571,"color":"#8c8c8c"},{"offset":0.571,"color":"#ffffff"},{"offset":0.671,"color":"#ffffff"},{"offset":0.671,"color":"#8c8c8c"},{"offset":0.714,"color":"#8c8c8c"},{"offset":0.714,"color":"#ffffff"},{"offset":0.814,"color":"#ffffff"},{"offset":0.814,"color":"#8c8c8c"},{"offset":0.857,"color":"#8c8c8c"},{"offset":0.857,"color":"#ffffff"},{"offset":1,"color":"#ffffff"}]}},
 "encoding": {
  "x": {"field": "r", "type": "nominal", "scale": {"domain": ["HIPP","CTX","CB"], "paddingInner": 0, "paddingOuter": 0}},
  "xOffset": {"field": "g", "type": "nominal", "scale": {"domain": ["Em","E2","T3","Tm"], "paddingInner": 0.378, "paddingOuter": 0.493, "align": 0.45}},
  "y": {"field": "v", "type": "quantitative", "scale": {"domain": [0, 4], "nice": false}, "axis": null}
 }},
{"data": {"name": "bars"}, "transform": [{"filter": "datum.p=='C' && datum.g=='Tm'"}],
 "mark": {"type": "bar", "stroke": "black", "strokeWidth": 4, "fill": {"gradient": "linear", "x1": 0, "y1": 0, "x2": 1, "y2": 0, "stops": [{"offset":0,"color":"#d4d4d4"},{"offset":0.1667,"color":"#d4d4d4"},{"offset":0.1667,"color":"#5c5c5c"},{"offset":0.3333,"color":"#5c5c5c"},{"offset":0.3333,"color":"#d4d4d4"},{"offset":0.5,"color":"#d4d4d4"},{"offset":0.5,"color":"#5c5c5c"},{"offset":0.6667,"color":"#5c5c5c"},{"offset":0.6667,"color":"#d4d4d4"},{"offset":0.8333,"color":"#d4d4d4"},{"offset":0.8333,"color":"#5c5c5c"},{"offset":1,"color":"#5c5c5c"}]}},
 "encoding": {
  "x": {"field": "r", "type": "nominal", "scale": {"domain": ["HIPP","CTX","CB"], "paddingInner": 0, "paddingOuter": 0}},
  "xOffset": {"field": "g", "type": "nominal", "scale": {"domain": ["Em","E2","T3","Tm"], "paddingInner": 0.378, "paddingOuter": 0.493, "align": 0.45}},
  "y": {"field": "v", "type": "quantitative", "scale": {"domain": [0, 4], "nice": false}, "axis": null}
 }},
{"data": {"values": [{"r": "CTX"}, {"r": "CB"}]},
 "mark": {"type": "rule", "stroke": "black", "strokeWidth": 3, "strokeDash": [0.5, 9], "strokeCap": "round"},
 "encoding": {"x": {"field": "r", "type": "nominal", "bandPosition": 0, "scale": {"domain": ["HIPP","CTX","CB"], "paddingInner": 0, "paddingOuter": 0}}}},
{"data": {"name": "pts"}, "transform": [{"filter": "datum.p=='C'"}],
 "mark": {"type": "point", "filled": true, "stroke": "black", "strokeWidth": 2, "size": 195, "opacity": 1},
 "encoding": {
  "x": {"field": "r", "type": "nominal", "scale": {"domain": ["HIPP","CTX","CB"], "paddingInner": 0, "paddingOuter": 0}},
  "xOffset": {"field": "g", "type": "nominal", "scale": {"domain": ["Em","E2","T3","Tm"], "paddingInner": 0.378, "paddingOuter": 0.493, "align": 0.45}},
  "y": {"field": "v", "type": "quantitative", "scale": {"domain": [0, 4], "nice": false},
        "axis": {"orient": "left", "values": [0.2,0.4,0.6,0.8,1.2,1.4,1.6,1.8,2.2,2.4,2.6,2.8,3.2,3.4,3.6,3.8], "labels": false, "tickSize": 7, "tickWidth": 3, "tickColor": "black", "domain": false, "grid": false,
                 "title": "C", "titleX": -126, "titleY": -45, "titleAngle": 0, "titleAlign": "left", "titleBaseline": "alphabetic", "titleFont": "DejaVu Sans", "titleFontSize": 36, "titleFontWeight": "bold", "titleColor": "black"}},
  "shape": {"condition": {"test": "datum.g=='Em' || datum.g=='Tm'", "value": "triangle-down"}, "value": "triangle-up"},
  "fill": {"condition": {"test": "datum.g=='T3'", "value": "black"}, "value": "white"}
 }}
]
},
{
"width": 600, "height": 398,
"resolve": {"axis": {"y": "independent"}},
"layer": [
{"data": {"name": "bars"}, "transform": [{"filter": "datum.p=='D'"}],
 "mark": {"type": "bar", "stroke": "black", "strokeWidth": 4},
 "encoding": {
  "x": {"field": "r", "type": "nominal", "scale": {"domain": ["HIPP","CTX","CB"], "paddingInner": 0, "paddingOuter": 0},
        "axis": {"orient": "bottom", "ticks": false, "domainWidth": 4, "domainColor": "black", "domainCap": "square", "labelFont": "DejaVu Sans", "labelFontWeight": "bold", "labelFontSize": 24, "labelColor": "black", "labelPadding": 12, "labelAngle": 0, "labelOffset": -5,
                 "title": "P15 MALES", "titleX": 7, "titleY": -443, "titleAlign": "left", "titleBaseline": "alphabetic", "titleAngle": 0, "titleFont": "Liberation Sans", "titleFontSize": 30, "titleFontWeight": "bold", "titleColor": "black"}},
  "xOffset": {"field": "g", "type": "nominal", "scale": {"domain": ["Em","E2","T3","Tm"], "paddingInner": 0.378, "paddingOuter": 0.493, "align": 0.45}},
  "y": {"field": "v", "type": "quantitative", "scale": {"domain": [0, 4], "nice": false},
        "axis": {"orient": "left", "values": [0,1,2,3,4], "format": ".1f", "labelFont": "DejaVu Sans", "labelFontWeight": "bold", "labelFontSize": 24, "labelColor": "black", "labelPadding": 5, "labelFlush": false, "labelOverlap": false, "tickSize": 12, "tickWidth": 3, "tickColor": "black", "domainWidth": 4, "domainColor": "black", "domainCap": "square", "grid": false,
                 "title": ["Relative Intensity", "(to Homogenate Standard)"], "titleFont": "Liberation Sans", "titleFontSize": 29, "titleFontWeight": "bold", "titleColor": "black", "titlePadding": 8, "titleLineHeight": 33}},
  "fill": {"field": "g", "type": "nominal", "scale": {"domain": ["E2","Em","T3","Tm"], "range": ["#ffffff","#d2d2d2","#c8c8c8","#9a9a9a"]},
           "legend": {"orient": "none", "legendX": 322, "legendY": -87, "columns": 2, "title": null, "symbolType": "M-1,-0.505H1V0.195H-1Z", "symbolSize": 2025, "symbolStrokeColor": "black", "symbolStrokeWidth": 6, "symbolOpacity": 1, "labelFont": "Liberation Sans", "labelFontSize": 19, "labelFontWeight": "bold", "labelColor": "black", "labelOffset": 72, "labelAlign": "center", "labelLimit": 300, "columnPadding": 10, "rowPadding": 12, "labelBaseline": "alphabetic", "padding": 0,
                      "labelExpr": "datum.label=='E2' ? ['Eu,Dyrk1a⁺ᐟ⁺','(n=6)'] : datum.label=='T3' ? ['Ts,Dyrk1a⁺ᐟ⁺ᐟ⁺','(n=5)'] : datum.label=='Em' ? ['Eu,Dyrk1a⁺ᐟ⁻','(n=6)'] : ['Ts,Dyrk1a⁺ᐟ⁺ᐟ⁻','(n=6)']"}}
 }},
{"data": {"name": "bars"}, "transform": [{"filter": "datum.p=='D' && datum.g=='Em'"}],
 "mark": {"type": "bar", "stroke": "black", "strokeWidth": 4, "fill": {"gradient": "linear", "x1": 0, "y1": 0, "x2": 1, "y2": 0, "stops": [{"offset":0,"color":"#ffffff"},{"offset":0.1,"color":"#ffffff"},{"offset":0.1,"color":"#8c8c8c"},{"offset":0.143,"color":"#8c8c8c"},{"offset":0.143,"color":"#ffffff"},{"offset":0.243,"color":"#ffffff"},{"offset":0.243,"color":"#8c8c8c"},{"offset":0.286,"color":"#8c8c8c"},{"offset":0.286,"color":"#ffffff"},{"offset":0.386,"color":"#ffffff"},{"offset":0.386,"color":"#8c8c8c"},{"offset":0.429,"color":"#8c8c8c"},{"offset":0.429,"color":"#ffffff"},{"offset":0.529,"color":"#ffffff"},{"offset":0.529,"color":"#8c8c8c"},{"offset":0.571,"color":"#8c8c8c"},{"offset":0.571,"color":"#ffffff"},{"offset":0.671,"color":"#ffffff"},{"offset":0.671,"color":"#8c8c8c"},{"offset":0.714,"color":"#8c8c8c"},{"offset":0.714,"color":"#ffffff"},{"offset":0.814,"color":"#ffffff"},{"offset":0.814,"color":"#8c8c8c"},{"offset":0.857,"color":"#8c8c8c"},{"offset":0.857,"color":"#ffffff"},{"offset":1,"color":"#ffffff"}]}},
 "encoding": {
  "x": {"field": "r", "type": "nominal", "scale": {"domain": ["HIPP","CTX","CB"], "paddingInner": 0, "paddingOuter": 0}},
  "xOffset": {"field": "g", "type": "nominal", "scale": {"domain": ["Em","E2","T3","Tm"], "paddingInner": 0.378, "paddingOuter": 0.493, "align": 0.45}},
  "y": {"field": "v", "type": "quantitative", "scale": {"domain": [0, 4], "nice": false}, "axis": null}
 }},
{"data": {"name": "bars"}, "transform": [{"filter": "datum.p=='D' && datum.g=='Tm'"}],
 "mark": {"type": "bar", "stroke": "black", "strokeWidth": 4, "fill": {"gradient": "linear", "x1": 0, "y1": 0, "x2": 1, "y2": 0, "stops": [{"offset":0,"color":"#d4d4d4"},{"offset":0.1667,"color":"#d4d4d4"},{"offset":0.1667,"color":"#5c5c5c"},{"offset":0.3333,"color":"#5c5c5c"},{"offset":0.3333,"color":"#d4d4d4"},{"offset":0.5,"color":"#d4d4d4"},{"offset":0.5,"color":"#5c5c5c"},{"offset":0.6667,"color":"#5c5c5c"},{"offset":0.6667,"color":"#d4d4d4"},{"offset":0.8333,"color":"#d4d4d4"},{"offset":0.8333,"color":"#5c5c5c"},{"offset":1,"color":"#5c5c5c"}]}},
 "encoding": {
  "x": {"field": "r", "type": "nominal", "scale": {"domain": ["HIPP","CTX","CB"], "paddingInner": 0, "paddingOuter": 0}},
  "xOffset": {"field": "g", "type": "nominal", "scale": {"domain": ["Em","E2","T3","Tm"], "paddingInner": 0.378, "paddingOuter": 0.493, "align": 0.45}},
  "y": {"field": "v", "type": "quantitative", "scale": {"domain": [0, 4], "nice": false}, "axis": null}
 }},
{"data": {"values": [{"r": "CTX"}, {"r": "CB"}]},
 "mark": {"type": "rule", "stroke": "black", "strokeWidth": 3, "strokeDash": [0.5, 9], "strokeCap": "round"},
 "encoding": {"x": {"field": "r", "type": "nominal", "bandPosition": 0, "scale": {"domain": ["HIPP","CTX","CB"], "paddingInner": 0, "paddingOuter": 0}}}},
{"data": {"name": "br"}, "transform": [{"filter": "datum.p=='D'"}],
 "mark": {"type": "line", "stroke": "black", "strokeWidth": 2.5},
 "encoding": {
  "x": {"field": "r", "type": "nominal", "scale": {"domain": ["HIPP","CTX","CB"], "paddingInner": 0, "paddingOuter": 0}},
  "xOffset": {"field": "g", "type": "nominal", "scale": {"domain": ["Em","E2","T3","Tm"], "paddingInner": 0.378, "paddingOuter": 0.493, "align": 0.45}},
  "y": {"field": "v", "type": "quantitative", "scale": {"domain": [0, 4], "nice": false}, "axis": null},
  "detail": {"field": "id", "type": "nominal"},
  "order": {"field": "o", "type": "quantitative"}
 }},
{"data": {"name": "st"}, "transform": [{"filter": "datum.p=='D'"}],
 "mark": {"type": "text", "dx": 21.7, "dy": 7, "baseline": "alphabetic", "align": "center", "font": "DejaVu Sans", "fontSize": 26, "fontWeight": "bold", "color": "black"},
 "encoding": {
  "x": {"field": "r", "type": "nominal", "scale": {"domain": ["HIPP","CTX","CB"], "paddingInner": 0, "paddingOuter": 0}},
  "xOffset": {"field": "g", "type": "nominal", "scale": {"domain": ["Em","E2","T3","Tm"], "paddingInner": 0.378, "paddingOuter": 0.493, "align": 0.45}},
  "y": {"field": "v", "type": "quantitative", "scale": {"domain": [0, 4], "nice": false}, "axis": null},
  "text": {"field": "t", "type": "nominal"}
 }},
{"data": {"name": "pts"}, "transform": [{"filter": "datum.p=='D'"}],
 "mark": {"type": "point", "filled": true, "stroke": "black", "strokeWidth": 2, "size": 160, "opacity": 1, "shape": "circle"},
 "encoding": {
  "x": {"field": "r", "type": "nominal", "scale": {"domain": ["HIPP","CTX","CB"], "paddingInner": 0, "paddingOuter": 0}},
  "xOffset": {"field": "g", "type": "nominal", "scale": {"domain": ["Em","E2","T3","Tm"], "paddingInner": 0.378, "paddingOuter": 0.493, "align": 0.45}},
  "y": {"field": "v", "type": "quantitative", "scale": {"domain": [0, 4], "nice": false},
        "axis": {"orient": "left", "values": [0.2,0.4,0.6,0.8,1.2,1.4,1.6,1.8,2.2,2.4,2.6,2.8,3.2,3.4,3.6,3.8], "labels": false, "tickSize": 7, "tickWidth": 3, "tickColor": "black", "domain": false, "grid": false,
                 "title": "D", "titleX": -123, "titleY": -45, "titleAngle": 0, "titleAlign": "left", "titleBaseline": "alphabetic", "titleFont": "DejaVu Sans", "titleFontSize": 36, "titleFontWeight": "bold", "titleColor": "black"}},
  "fill": {"condition": {"test": "datum.g=='T3'", "value": "black"}, "value": "white"}
 }},
{"data": {"name": "pts"}, "transform": [{"filter": "datum.p=='D' && (datum.g=='Em' || datum.g=='Tm')"}],
 "mark": {"type": "point", "filled": true, "size": 160, "opacity": 1, "strokeWidth": 0, "fill": "black"},
 "encoding": {
  "x": {"field": "r", "type": "nominal", "scale": {"domain": ["HIPP","CTX","CB"], "paddingInner": 0, "paddingOuter": 0}},
  "xOffset": {"field": "g", "type": "nominal", "scale": {"domain": ["Em","E2","T3","Tm"], "paddingInner": 0.378, "paddingOuter": 0.493, "align": 0.45}},
  "y": {"field": "v", "type": "quantitative", "scale": {"domain": [0, 4], "nice": false}, "axis": null},
  "shape": {"condition": {"test": "datum.g=='Em'", "value": "M-1,0A1,1,0,0,0,1,0Z"}, "value": "M0,-1A1,1,0,0,1,0,1Z"}
 }}
]
}
]
}
